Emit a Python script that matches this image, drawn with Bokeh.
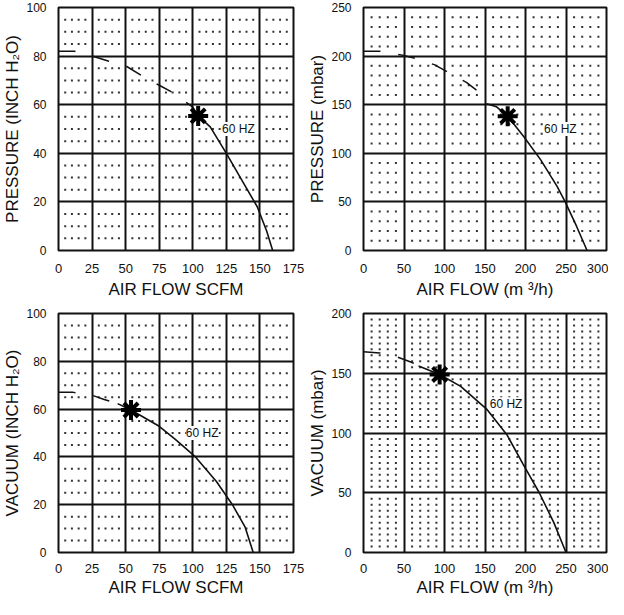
import numpy as np
from bokeh.plotting import figure
from bokeh.models import Range1d, FixedTicker, Label
from bokeh.layouts import gridplot
from bokeh.embed import file_html
from bokeh.resources import INLINE

# ---------------- data ----------------
# Panel 1: pressure, SCFM vs inch H2O
p1_dash_x = [0, 12, 25, 37, 50, 62, 75, 85, 100]
p1_dash_y = [82, 82, 80, 78, 76, 72, 68, 65, 59]
p1_solid_x = [100, 104, 113, 125, 136.5, 148, 155, 159.5]
p1_solid_y = [59, 55.4, 50.9, 40, 29, 18, 8, 0]
p1_star = (104, 55.4)
p1_label = (134, 50)

# Panel 2: pressure, m3/h vs mbar
p2_dash_x = [0, 20, 48, 67, 88, 105, 127, 144, 152]
p2_dash_y = [205, 205, 201, 197, 191, 183, 173, 162, 151]
p2_solid_x = [152, 164, 178, 198, 219, 239, 249, 263, 276]
p2_solid_y = [151, 148, 138, 117, 93, 66, 50, 25, 0]
p2_star = (178, 138)
p2_label = (243, 125)

# Panel 3: vacuum, SCFM vs inch H2O
p3_dash_x = [0, 11, 24, 34, 44]
p3_dash_y = [67, 67, 66, 64, 62.3]
p3_solid_x = [44, 54, 75, 87, 102, 117.6, 129.4, 139, 145]
p3_solid_y = [62.3, 59.6, 52.8, 47.3, 40, 29.7, 20.1, 10.6, 0]
p3_star = (54, 59.6)
p3_label = (107, 50)

# Panel 4: vacuum, m3/h vs mbar
p4_dash_x = [0, 20, 40, 60, 68]
p4_dash_y = [168, 167, 164, 159, 156]
p4_solid_x = [68, 94, 120, 152, 177, 197, 217, 235, 250]
p4_solid_y = [156, 149, 139, 120, 98.6, 74, 50, 25, 0]
p4_star = (94, 149)
p4_label = (176, 124)

scfm_ticks = [0, 25, 50, 75, 100, 125, 150, 175]
inch_ticks = [0, 20, 40, 60, 80, 100]
m3h_ticks = [0, 50, 100, 150, 200, 250, 300]
mbar_p_ticks = [0, 50, 100, 150, 200, 250]
mbar_v_ticks = [0, 50, 100, 150, 200]

FONT = "Liberation Sans"


def panel(xt, yt, xminor, yminor, xlab, ylab, dx, dy, sx, sy, star, lab,
          width, height, mbl, mbr, mbt, mbb, tick_so, lab_so):
    p = figure(width=width, height=height, output_backend="svg",
               toolbar_location=None,
               x_range=Range1d(xt[0], xt[-1]), y_range=Range1d(yt[0], yt[-1]),
               min_border_left=mbl, min_border_right=mbr,
               min_border_top=mbt, min_border_bottom=mbb)
    p.background_fill_color = "white"
    p.border_fill_color = "white"
    p.outline_line_color = "#111111"
    p.outline_line_width = 2
    p.xaxis.ticker = FixedTicker(ticks=xt)
    p.yaxis.ticker = FixedTicker(ticks=yt)
    for g in (p.xgrid, p.ygrid):
        g.grid_line_color = "#111111"
        g.grid_line_width = 2
    for ax in (p.xaxis, p.yaxis):
        ax.axis_line_color = None
        ax.major_tick_line_color = None
        ax.minor_tick_line_color = None
        ax.major_label_text_font = FONT
        ax.major_label_text_color = "#111111"
        ax.axis_label_text_font = FONT
        ax.axis_label_text_font_size = "17px"
        ax.axis_label_text_font_style = "normal"
        ax.axis_label_text_color = "#111111"
    p.yaxis.major_label_text_font_size = "12px"
    p.xaxis.major_label_text_font_size = "13px"
    p.yaxis.major_label_standoff = 6
    p.xaxis.axis_label = xlab
    p.yaxis.axis_label = ylab
    p.yaxis.axis_label_standoff = 1
    p.xaxis.major_label_standoff = tick_so
    p.xaxis.axis_label_standoff = lab_so

    # dotted minor grid (dots at minor intersections)
    xs_m = [v for v in xminor if v not in xt]
    ys_m = [v for v in yminor if v not in yt]
    gx, gy = np.meshgrid(xs_m, ys_m)
    p.scatter(gx.ravel(), gy.ravel(), marker="square", size=2,
              color="#333333", line_color=None)

    p.line(dx, dy, line_color="#111111", line_width=1.5, line_dash="17 18")
    p.line(sx, sy, line_color="#111111", line_width=1.6)
    p.scatter([star[0]], [star[1]], marker="asterisk", size=20,
              line_width=4, line_color="#000000")
    p.add_layout(Label(x=lab[0], y=lab[1], text="60 HZ",
                       text_font=FONT, text_font_size="12px",
                       text_align="center", text_baseline="middle",
                       background_fill_color="white",
                       text_color="#111111"))
    return p


scfm_minor = list(np.arange(0, 176, 5))
inch_minor = list(np.arange(0, 101, 5))
m3h_minor = list(np.arange(0, 301, 10))
mbar_p_minor = list(np.arange(0, 251, 10))
mbar_v_minor = list(np.arange(0, 201, 5))

p1 = panel(scfm_ticks, inch_ticks, scfm_minor, inch_minor,
           "AIR FLOW SCFM", "PRESSURE (INCH H\u2082O)",
           p1_dash_x, p1_dash_y, p1_solid_x, p1_solid_y, p1_star, p1_label,
           305, 301, 46, 12, 7, 50, 7, 4)
p2 = panel(m3h_ticks, mbar_p_ticks, m3h_minor, mbar_p_minor,
           "AIR FLOW (m \u00b3/h)", "PRESSURE (mbar)",
           p2_dash_x, p2_dash_y, p2_solid_x, p2_solid_y, p2_star, p2_label,
           303, 301, 53, 2, 7, 50, 7, 4)
p3 = panel(scfm_ticks, inch_ticks, scfm_minor, inch_minor,
           "AIR FLOW SCFM", "VACUUM (INCH H\u2082O)",
           p3_dash_x, p3_dash_y, p3_solid_x, p3_solid_y, p3_star, p3_label,
           305, 298, 46, 12, 12, 42, 5, 2)
p4 = panel(m3h_ticks, mbar_v_ticks, m3h_minor, mbar_v_minor,
           "AIR FLOW (m \u00b3/h)", "VACUUM (mbar)",
           p4_dash_x, p4_dash_y, p4_solid_x, p4_solid_y, p4_star, p4_label,
           303, 298, 53, 2, 12, 42, 5, 2)

grid = gridplot([[p1, p2], [p3, p4]], toolbar_location=None)
open("out.html", "w").write(file_html(grid, INLINE))
